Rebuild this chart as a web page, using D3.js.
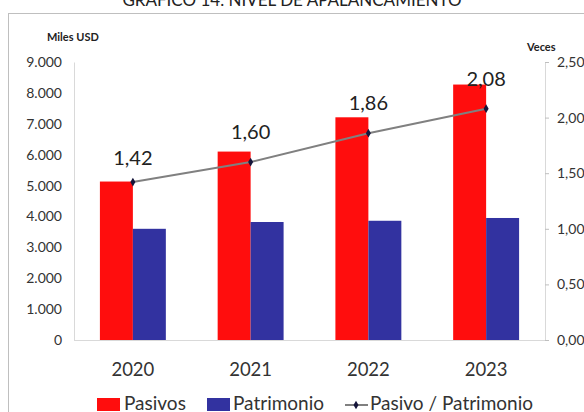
<!DOCTYPE html>
<html><head><meta charset="utf-8">
<script src="https://cdn.jsdelivr.net/npm/d3@7"></script>
<style>body{margin:0;background:#fff}svg{display:block}text{font-family:Lato,"Liberation Sans",Arial,sans-serif}</style>
</head><body><svg id="c" width="584" height="412"></svg>
<script>
const categories = ["2020","2021","2022","2023"];
const pasivos = [5130, 6100, 7210, 8270];
const patrimonio = [3600, 3820, 3860, 3950];
const ratio = [1.42, 1.60, 1.86, 2.08];
const ratioLabels = ["1,42","1,60","1,86","2,08"];
const leftTicks = [0,1000,2000,3000,4000,5000,6000,7000,8000,9000];
const rightTicks = [0,0.5,1,1.5,2,2.5];

const FONT = 'Lato,"Liberation Sans",Arial,sans-serif';
const svg = d3.select("#c");
const x0=74,x1=545,yTop=62,yBot=340;

svg.append("text").attr("x",292).attr("y",6).attr("text-anchor","middle")
  .attr("font-size",17).attr("fill","#222").text("GRÁFICO 14. NIVEL DE APALANCAMIENTO");

svg.append("rect").attr("x",8.5).attr("y",13.5).attr("width",600).attr("height",420)
  .attr("fill","none").attr("stroke","#bfbfbf").attr("stroke-width",1);

const x = d3.scaleBand().domain(categories).range([x0,x1]).paddingInner(0.44).paddingOuter(0.22);
const xs = d3.scaleBand().domain(["p","q"]).range([0,x.bandwidth()]);
const xc = d3.scalePoint().domain(categories).range([x0,x1]).padding(0.5);
const yL = d3.scaleLinear().domain([0,9000]).range([yBot,yTop]);
const yR = d3.scaleLinear().domain([0,2.5]).range([yBot,yTop]);

const fmtL = d => d===0 ? "0" : d3.format(",")(d).replace(/,/g,".");
const fmtR = d => d3.format(".2f")(d).replace(".",",");

const gL = svg.append("g").attr("transform",`translate(${x0},0)`)
  .call(d3.axisLeft(yL).tickValues(leftTicks).tickSize(0).tickPadding(12).tickFormat(fmtL));
gL.select(".domain").attr("stroke","#d9d9d9");
gL.selectAll("text").attr("font-size",14).attr("fill","#333").attr("font-family",FONT);

const gR = svg.append("g").attr("transform",`translate(${x1},0)`)
  .call(d3.axisRight(yR).tickValues(rightTicks).tickSize(4).tickPadding(8).tickFormat(fmtR));
gR.select(".domain").attr("stroke","#d9d9d9");
gR.selectAll("line").attr("stroke","#bfbfbf");
gR.selectAll("text").attr("font-size",14).attr("fill","#333").attr("font-family",FONT);

svg.append("line").attr("x1",x0).attr("x2",x1).attr("y1",yBot+0.5).attr("y2",yBot+0.5).attr("stroke","#d9d9d9");

svg.append("g").selectAll("text").data(categories).join("text")
  .attr("x",d=>xc(d)).attr("y",376).attr("text-anchor","middle")
  .attr("font-size",18.5).attr("fill","#333").text(d=>d);

const g = svg.append("g");
g.selectAll(".p").data(categories).join("rect").attr("class","p")
  .attr("x",d=>x(d)+xs("p")).attr("width",xs.bandwidth())
  .attr("y",(d,i)=>yL(pasivos[i])).attr("height",(d,i)=>yBot-yL(pasivos[i])).attr("fill","#ff0d0d");
g.selectAll(".q").data(categories).join("rect").attr("class","q")
  .attr("x",d=>x(d)+xs("q")).attr("width",xs.bandwidth())
  .attr("y",(d,i)=>yL(patrimonio[i])).attr("height",(d,i)=>yBot-yL(patrimonio[i])).attr("fill","#3232a0");

const line = d3.line().x((d,i)=>xc(categories[i])).y(d=>yR(d));
svg.append("path").datum(ratio).attr("d",line).attr("fill","none").attr("stroke","#808080").attr("stroke-width",2);
svg.append("g").selectAll("path").data(ratio).join("path")
  .attr("transform",(d,i)=>`translate(${xc(categories[i])},${yR(d)})`)
  .attr("d",d3.symbol(d3.symbolDiamond,22)).attr("fill","#15153a");
svg.append("g").selectAll("text").data(ratio).join("text")
  .attr("x",(d,i)=>xc(categories[i])).attr("y",(d,i)=>yR(d)-(i===0?17:23))
  .attr("text-anchor","middle").attr("font-size",20).attr("fill","#222").text((d,i)=>ratioLabels[i]);

svg.append("text").attr("x",47).attr("y",41).attr("font-size",11).attr("font-weight","bold").attr("fill","#222").text("Miles USD");
svg.append("text").attr("x",527).attr("y",51).attr("font-size",11).attr("font-weight","bold").attr("fill","#222").text("Veces");

const lg = svg.append("g").attr("font-size",19);
lg.append("rect").attr("x",97).attr("y",398).attr("width",23).attr("height",13).attr("fill","#ff0d0d");
lg.append("text").attr("x",124).attr("y",410).attr("fill","#333").text("Pasivos");
lg.append("rect").attr("x",207).attr("y",398).attr("width",23).attr("height",13).attr("fill","#3232a0");
lg.append("text").attr("x",233).attr("y",410).attr("fill","#333").text("Patrimonio");
lg.append("line").attr("x1",345).attr("x2",368).attr("y1",405).attr("y2",405).attr("stroke","#808080").attr("stroke-width",2);
lg.append("path").attr("transform","translate(356,405)").attr("d",d3.symbol(d3.symbolDiamond,22)).attr("fill","#15153a");
lg.append("text").attr("x",370).attr("y",410).attr("fill","#333").text("Pasivo / Patrimonio");
</script></body></html>
